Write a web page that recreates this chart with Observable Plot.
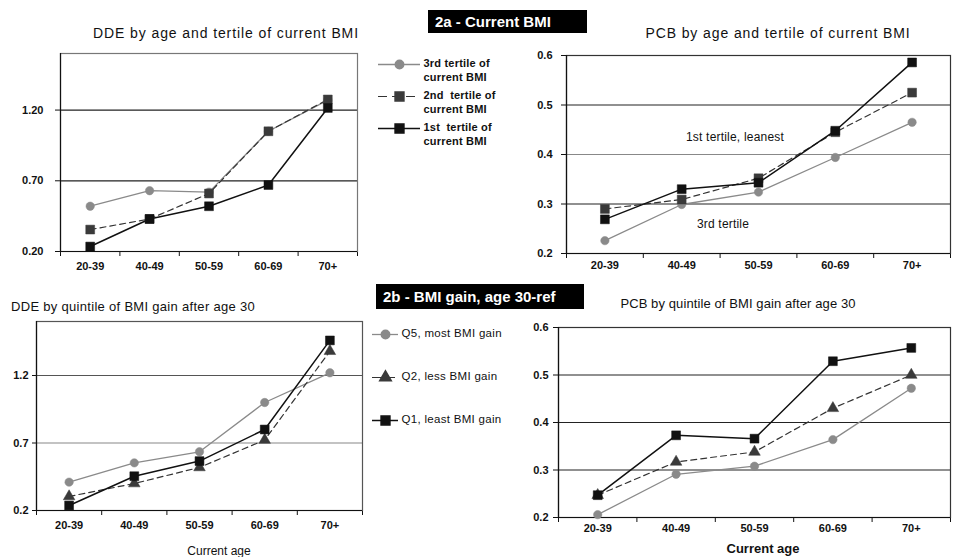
<!DOCTYPE html>
<html>
<head>
<meta charset="utf-8">
<script src="https://cdn.jsdelivr.net/npm/d3@7"></script>
<script src="https://cdn.jsdelivr.net/npm/@observablehq/plot@0.6"></script>
<style>
  body { margin: 0; background: #fff; }
  #root { position: relative; width: 954px; height: 557px; overflow: hidden; font-family: "Liberation Sans", Arial, sans-serif; color: #111; }
  #root svg { position: absolute; }
  .t { position: absolute; white-space: nowrap; transform: translate(-50%, -50%); }
  .box { position: absolute; background: #000; color: #fff; font-weight: bold; font-size: 15px; white-space: nowrap; box-sizing: border-box; padding-left: 7px; }
</style>
</head>
<body>
<div id="root"></div>
<script>
// ---- data ----
const ages = ["20-39", "40-49", "50-59", "60-69", "70+"];

const ddeTicks = [0.2, 0.7, 1.2];
const pcbTicks = [0.2, 0.3, 0.4, 0.5, 0.6];

// 2a DDE by tertile of current BMI
const ddeTertile3 = [0.52, 0.63, 0.62, 1.05, 1.27];
const ddeTertile2 = [0.355, 0.43, 0.61, 1.05, 1.275];
const ddeTertile1 = [0.235, 0.43, 0.52, 0.67, 1.215];

// 2a PCB by tertile of current BMI
const pcbTertile3 = [0.226, 0.299, 0.324, 0.394, 0.465];
const pcbTertile2 = [0.29, 0.309, 0.352, 0.445, 0.525];
const pcbTertile1 = [0.269, 0.33, 0.343, 0.448, 0.586];

// 2b DDE by quintile of BMI gain
const ddeQ5 = [0.41, 0.553, 0.635, 1.0, 1.22];
const ddeQ2 = [0.304, 0.40, 0.519, 0.722, 1.38];
const ddeQ1 = [0.237, 0.454, 0.566, 0.80, 1.46];

// 2b PCB by quintile of BMI gain
const pcbQ5 = [0.206, 0.291, 0.308, 0.364, 0.472];
const pcbQ2 = [0.247, 0.317, 0.338, 0.43, 0.50];
const pcbQ1 = [0.247, 0.373, 0.366, 0.529, 0.557];

const tertileLabels = ["3rd tertile of\ncurrent BMI", "2nd  tertile of\ncurrent BMI", "1st  tertile of\ncurrent BMI"];
const quintileLabels = ["Q5, most BMI gain", "Q2, less BMI gain", "Q1, least BMI gain"];

// ---- styles ----
const S3 = {stroke: "#8a8a8a", fill: "#8a8a8a", dash: null, width: 1.3, symbol: "circle", r: 4.2};
const S2sq = {stroke: "#333", fill: "#3a3a3a", dash: "6,4", width: 1.2, symbol: "square", r: 5};
const S2tri = {stroke: "#333", fill: "#3a3a3a", dash: "6,4", width: 1.2, symbol: "triangle", r: 4.3};
const S1 = {stroke: "#111", fill: "#111", dash: null, width: 1.5, symbol: "square", r: 5};

const root = document.getElementById("root");

function rows(values) { return values.map((v, i) => ({x: i + 0.5, y: v})); }

function panel(cfg) {
  const [ymin, ymax] = cfg.yDomain;
  const marks = [];
  const inner = cfg.yTicks.filter(t => t > ymin && t < ymax);
  marks.push(Plot.ruleY(inner, {stroke: (d) => cfg.gridColor(d), strokeWidth: 1.2}));
  marks.push(Plot.frame({stroke: cfg.frameColor, strokeWidth: 1.2}));
  marks.push(Plot.ruleY([ymin], {stroke: "#111", strokeWidth: 1.2}));
  marks.push(Plot.ruleX([0], {stroke: "#111", strokeWidth: 1.2}));
  for (const s of cfg.series) {
    const st = s.style;
    marks.push(Plot.line(rows(s.values), {x: "x", y: "y", stroke: st.stroke, strokeWidth: st.width, strokeDasharray: st.dash}));
  }
  for (const s of cfg.series) {
    const st = s.style;
    marks.push(Plot.dot(rows(s.values), {x: "x", y: "y", symbol: st.symbol, r: st.r, fill: st.fill, stroke: st.fill, strokeWidth: 0.5}));
  }
  marks.push(Plot.text(ages, {x: (d, i) => i + 0.5, frameAnchor: "bottom", dy: cfg.labelDy, text: d => d,
    fontSize: 11, fontWeight: "bold", fill: "#111"}));
  const p = Plot.plot({
    width: cfg.width, height: cfg.height,
    marginLeft: cfg.mL, marginRight: cfg.mR, marginTop: cfg.mT, marginBottom: cfg.mB,
    style: {background: "transparent", fontFamily: "'Liberation Sans', Arial, sans-serif", fontSize: "11px", fontWeight: "bold", color: "#111", overflow: "visible"},
    x: {domain: [0, 5], ticks: [0, 1, 2, 3, 4, 5], tickFormat: () => "", tickSize: 5, label: null},
    y: {domain: cfg.yDomain, ticks: cfg.yTicks, tickFormat: cfg.yFormat, tickSize: cfg.tickSize, tickPadding: cfg.tickPad, label: null},
    marks
  });
  p.style.left = cfg.left + "px";
  p.style.top = cfg.top + "px";
  p.style.maxWidth = "none";
  root.appendChild(p);
}

function legend(cfg) {
  const entries = cfg.labels.map((l, i) => ({label: l, style: cfg.styles[i], key: "k" + i}));
  const keys = entries.map(e => e.key);
  const marks = [];
  for (const e of entries) {
    marks.push(Plot.ruleY([e], {y: "key", x1: 0, x2: 1, stroke: e.style.stroke, strokeWidth: e.style.width, strokeDasharray: e.style.dash ? "9,5" : null}));
    marks.push(Plot.dot([e], {x: 0.5, y: "key", symbol: e.style.symbol, r: e.style.r, fill: e.style.fill, stroke: e.style.fill}));
  }
  marks.push(Plot.text(entries, {x: 1, y: "key", text: "label", dx: 3, textAnchor: "start", lineAnchor: "top", dy: -7,
    lineHeight: cfg.lineHeight, fontSize: cfg.fontSize, fontWeight: cfg.fontWeight, fill: "#111"}));
  const p = Plot.plot({
    width: cfg.width, height: cfg.height, margin: 0,
    style: {background: "transparent", fontFamily: "'Liberation Sans', Arial, sans-serif", overflow: "visible", letterSpacing: cfg.ls},
    x: {domain: [0, 1], range: cfg.xRange, axis: null},
    y: {type: "point", domain: keys, range: cfg.yRange, padding: 0, axis: null},
    marks
  });
  p.style.left = cfg.left + "px";
  p.style.top = cfg.top + "px";
  p.style.maxWidth = "none";
  root.appendChild(p);
}

function text(str, x, y, css) {
  const d = document.createElement("div");
  d.className = "t";
  d.textContent = str;
  d.style.left = x + "px";
  d.style.top = y + "px";
  Object.assign(d.style, css);
  root.appendChild(d);
}
function box(str, x, y, w, h) {
  const d = document.createElement("div");
  d.className = "box";
  d.textContent = str;
  Object.assign(d.style, {left: x + "px", top: y + "px", width: w + "px", height: h + "px", lineHeight: h + "px"});
  root.appendChild(d);
}

// ---- Panel 1: DDE by tertile ----
panel({left: 0, top: 40, width: 370, height: 250, mL: 60, mR: 13, mT: 13, mB: 39,
  yDomain: [0.2, 1.6], yTicks: ddeTicks, yFormat: d3.format(".2f"), tickSize: 5, tickPad: 12, labelDy: 18,
  gridColor: () => "#222", frameColor: "#777",
  series: [{values: ddeTertile3, style: S3}, {values: ddeTertile2, style: S2sq}, {values: ddeTertile1, style: S1}]});

// ---- Panel 2: PCB by tertile ----
panel({left: 500, top: 45, width: 454, height: 240, mL: 66, mR: 4, mT: 10, mB: 32,
  yDomain: [0.2, 0.6], yTicks: pcbTicks, yFormat: d3.format(".1f"), tickSize: 5, tickPad: 9, labelDy: 15,
  gridColor: d => (d === 0.4 ? "#888" : "#222"), frameColor: "#333",
  series: [{values: pcbTertile3, style: S3}, {values: pcbTertile2, style: S2sq}, {values: pcbTertile1, style: S1}]});

// ---- Panel 3: DDE by quintile of BMI gain ----
panel({left: 0, top: 312, width: 370, height: 245, mL: 36, mR: 8, mT: 9, mB: 47,
  yDomain: [0.2, 1.6], yTicks: ddeTicks, yFormat: d3.format(".1f"), tickSize: 4, tickPad: 4, labelDy: 18,
  gridColor: d => (d === 0.7 ? "#888" : "#555"), frameColor: "#555",
  series: [{values: ddeQ5, style: S3}, {values: ddeQ2, style: S2tri}, {values: ddeQ1, style: S1}]});

// ---- Panel 4: PCB by quintile of BMI gain ----
panel({left: 500, top: 316, width: 454, height: 241, mL: 58, mR: 4, mT: 11, mB: 40,
  yDomain: [0.2, 0.6], yTicks: pcbTicks, yFormat: d3.format(".1f"), tickSize: 5, tickPad: 5, labelDy: 14,
  gridColor: () => "#222", frameColor: "#333",
  series: [{values: pcbQ5, style: S3}, {values: pcbQ2, style: S2tri}, {values: pcbQ1, style: S1}]});

// ---- Legends ----
legend({left: 370, top: 40, width: 160, height: 120, xRange: [8, 50], yRange: [23, 88],
  labels: tertileLabels, styles: [S3, S2sq, S1], fontSize: 11, fontWeight: "bold", lineHeight: 1.25, ls: "0.2px"});
legend({left: 365, top: 320, width: 160, height: 110, xRange: [7, 33], yRange: [13, 100],
  labels: quintileLabels, styles: [S3, S2tri, S1], fontSize: 11.5, fontWeight: "normal", lineHeight: 1.2, ls: "0.3px"});

// ---- Titles & annotations ----
text("DDE by age and tertile of current BMI", 226, 33, {fontSize: "14px", letterSpacing: "0.9px"});
text("PCB by age and tertile of current BMI", 778, 33, {fontSize: "14px", letterSpacing: "0.9px"});
text("DDE by quintile of BMI gain after age 30", 133, 306, {fontSize: "13px", letterSpacing: "0.3px"});
text("PCB by quintile of BMI gain after age 30", 738, 303, {fontSize: "13px", letterSpacing: "0.1px"});
text("1st tertile, leanest", 735, 137, {fontSize: "12px", letterSpacing: "0.2px"});
text("3rd tertile", 723, 224, {fontSize: "12px", letterSpacing: "0.2px"});
text("Current age", 219, 551, {fontSize: "12px"});
text("Current age", 763, 548, {fontSize: "13px", fontWeight: "bold"});

box("2a - Current BMI", 428, 10, 159, 23);
box("2b - BMI gain, age 30-ref", 376, 284, 208, 25);
</script>
</body>
</html>
